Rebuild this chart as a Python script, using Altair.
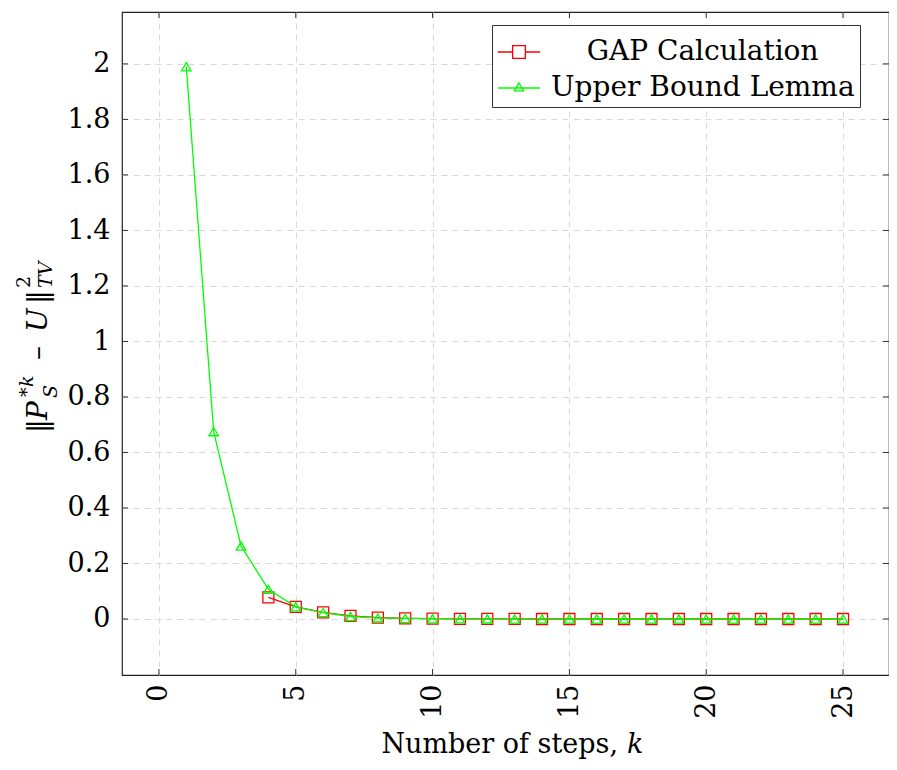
import altair as alt
import pandas as pd

# ---- data ----
k_upper = list(range(1, 26))
upper = [1.99, 0.675, 0.263, 0.107, 0.044, 0.023, 0.009, 0.004, 0.002, 0.001,
         0.0005, 0.0003, 0.0001, 0.0001, 0.0, 0.0, 0.0, 0.0, 0.0, 0.0,
         0.0, 0.0, 0.0, 0.0, 0.0]
k_gap = list(range(4, 26))
gap = [0.078, 0.044, 0.024, 0.011, 0.005, 0.002, 0.001, 0.0005, 0.0002, 0.0001,
       0.0, 0.0, 0.0, 0.0, 0.0, 0.0, 0.0, 0.0, 0.0, 0.0, 0.0, 0.0]
# legend labels (GAP label padded so it sits centred, as in the original legend)
series_names = ["\u200b\u2007\u2007GAP Calculation", "Upper Bound Lemma"]
series_colors = ["#ff0000", "#00ff00"]
x_ticks = [0, 5, 10, 15, 20, 25]
y_ticks = [0, 0.2, 0.4, 0.6, 0.8, 1.0, 1.2, 1.4, 1.6, 1.8, 2.0]

W, H = 767, 663
FONT = "DejaVu Serif"
SW = 1.3

df_upper = pd.DataFrame({"k": k_upper, "v": upper})
df_gap = pd.DataFrame({"k": k_gap, "v": gap})
df_leg = pd.DataFrame({"series": series_names, "k": [1, 1], "v": [0, 0]})
df_xt = pd.DataFrame({"t": x_ticks})
df_yt = pd.DataFrame({"t": y_ticks})
one = pd.DataFrame({"a": [0]})

xscale = alt.Scale(domain=[-1.35, 26.68], nice=False, zero=False)
yscale = alt.Scale(domain=[-0.2018, 2.187], nice=False, zero=False)

X = alt.X("k:Q", scale=xscale,
          axis=alt.Axis(values=x_ticks, title=None, labelAngle=-90, ticks=False,
                        domain=False, labelPadding=9, labelFont=FONT, labelFontSize=27,
                        labelColor="black", grid=True, gridDash=[6, 5],
                        gridColor="#d9d9d9"))
Y = alt.Y("v:Q", scale=yscale,
          axis=alt.Axis(values=y_ticks, title=None, format="~g", ticks=False,
                        domain=False, labelPadding=12, labelFont=FONT, labelFontSize=27,
                        labelColor="black", grid=True, gridDash=[6, 5],
                        gridColor="#d9d9d9"))

gap_line = alt.Chart(df_gap).mark_line(color=series_colors[0], strokeWidth=SW).encode(x=X, y=Y)
gap_pts = alt.Chart(df_gap).mark_point(shape="square", filled=False, size=121, opacity=1,
                                       color=series_colors[0], strokeWidth=SW).encode(x="k:Q", y="v:Q")
up_line = alt.Chart(df_upper).mark_line(color=series_colors[1], strokeWidth=SW).encode(x="k:Q", y="v:Q")
up_pts = alt.Chart(df_upper).mark_point(shape="triangle-up", filled=False, size=90, opacity=1,
                                        color=series_colors[1], strokeWidth=SW).encode(x="k:Q", y="v:Q")

leg_shapes = [
    "M-1,0H-0.3M0.3,0H1M-0.3,-0.3H0.3V0.3H-0.3Z",
    "M-1,0H1M0,-0.24L0.22,0.14H-0.22Z",
]
legend = alt.Legend(title=None, orient="none", legendX=370, legendY=13,
                    symbolSize=1800, symbolStrokeWidth=SW, symbolOpacity=1, labelFont=FONT,
                    labelFontSize=28, labelColor="black", strokeColor="#333333",
                    fillColor="white", padding=5, rowPadding=0, labelOffset=10,
                    labelLimit=400)
leg_layer = alt.Chart(df_leg).mark_point(filled=False, opacity=1).encode(
    x="k:Q", y="v:Q",
    color=alt.Color("series:N", scale=alt.Scale(domain=series_names, range=series_colors),
                    legend=legend),
    shape=alt.Shape("series:N", scale=alt.Scale(domain=series_names, range=leg_shapes),
                    legend=legend),
).transform_filter("false")

tick_len = 6
tb = alt.Chart(df_xt).mark_rule(color="#333333").encode(x="t:Q", y=alt.value(H), y2=alt.value(H - tick_len))
tt = alt.Chart(df_xt).mark_rule(color="#333333").encode(x="t:Q", y=alt.value(0), y2=alt.value(tick_len))
tl = alt.Chart(df_yt).mark_rule(color="#333333").encode(y="t:Q", x=alt.value(0), x2=alt.value(tick_len))
tr = alt.Chart(df_yt).mark_rule(color="#333333").encode(y="t:Q", x=alt.value(W), x2=alt.value(W - tick_len))


def txt(s, x, y, size, italic=False, angle=270, align="left"):
    return alt.Chart(one).mark_text(text=s, font=FONT, fontSize=size,
                                    fontStyle="italic" if italic else "normal",
                                    angle=angle, align=align, baseline="alphabetic",
                                    color="black").encode(x=alt.value(x), y=alt.value(y))


ytitle = [
    txt("‖", -75, 421, 28),
    txt("P", -75, 408, 28, True),
    txt("S", -65, 386, 19, True),
    txt("*", -89, 385, 19),
    txt("k", -89, 375, 19, True),
    txt("–", -75, 348, 28),
    txt("U", -75, 320, 28, True),
    txt("‖", -75, 292, 28),
    txt("2", -92, 276, 19),
    txt("TV", -70, 276, 19, True),
]
xtitle = [
    txt("Number of steps,", 496, 741, 27, angle=0, align="right"),
    txt("k", 505, 741, 27, True, angle=0),
]

chart = alt.layer(
    gap_line, gap_pts, up_line, up_pts, leg_layer, tb, tt, tl, tr, *ytitle, *xtitle
).properties(
    width=W, height=H,
    autosize=alt.AutoSizeParams(type="none"),
    padding={"left": 114, "top": 4, "right": 0, "bottom": 86},
).configure_view(stroke="#222222", strokeWidth=1.2).configure_legend(
    symbolStrokeWidth=SW
)

chart.save("out.html", embed_options={"renderer": "svg", "actions": False})
